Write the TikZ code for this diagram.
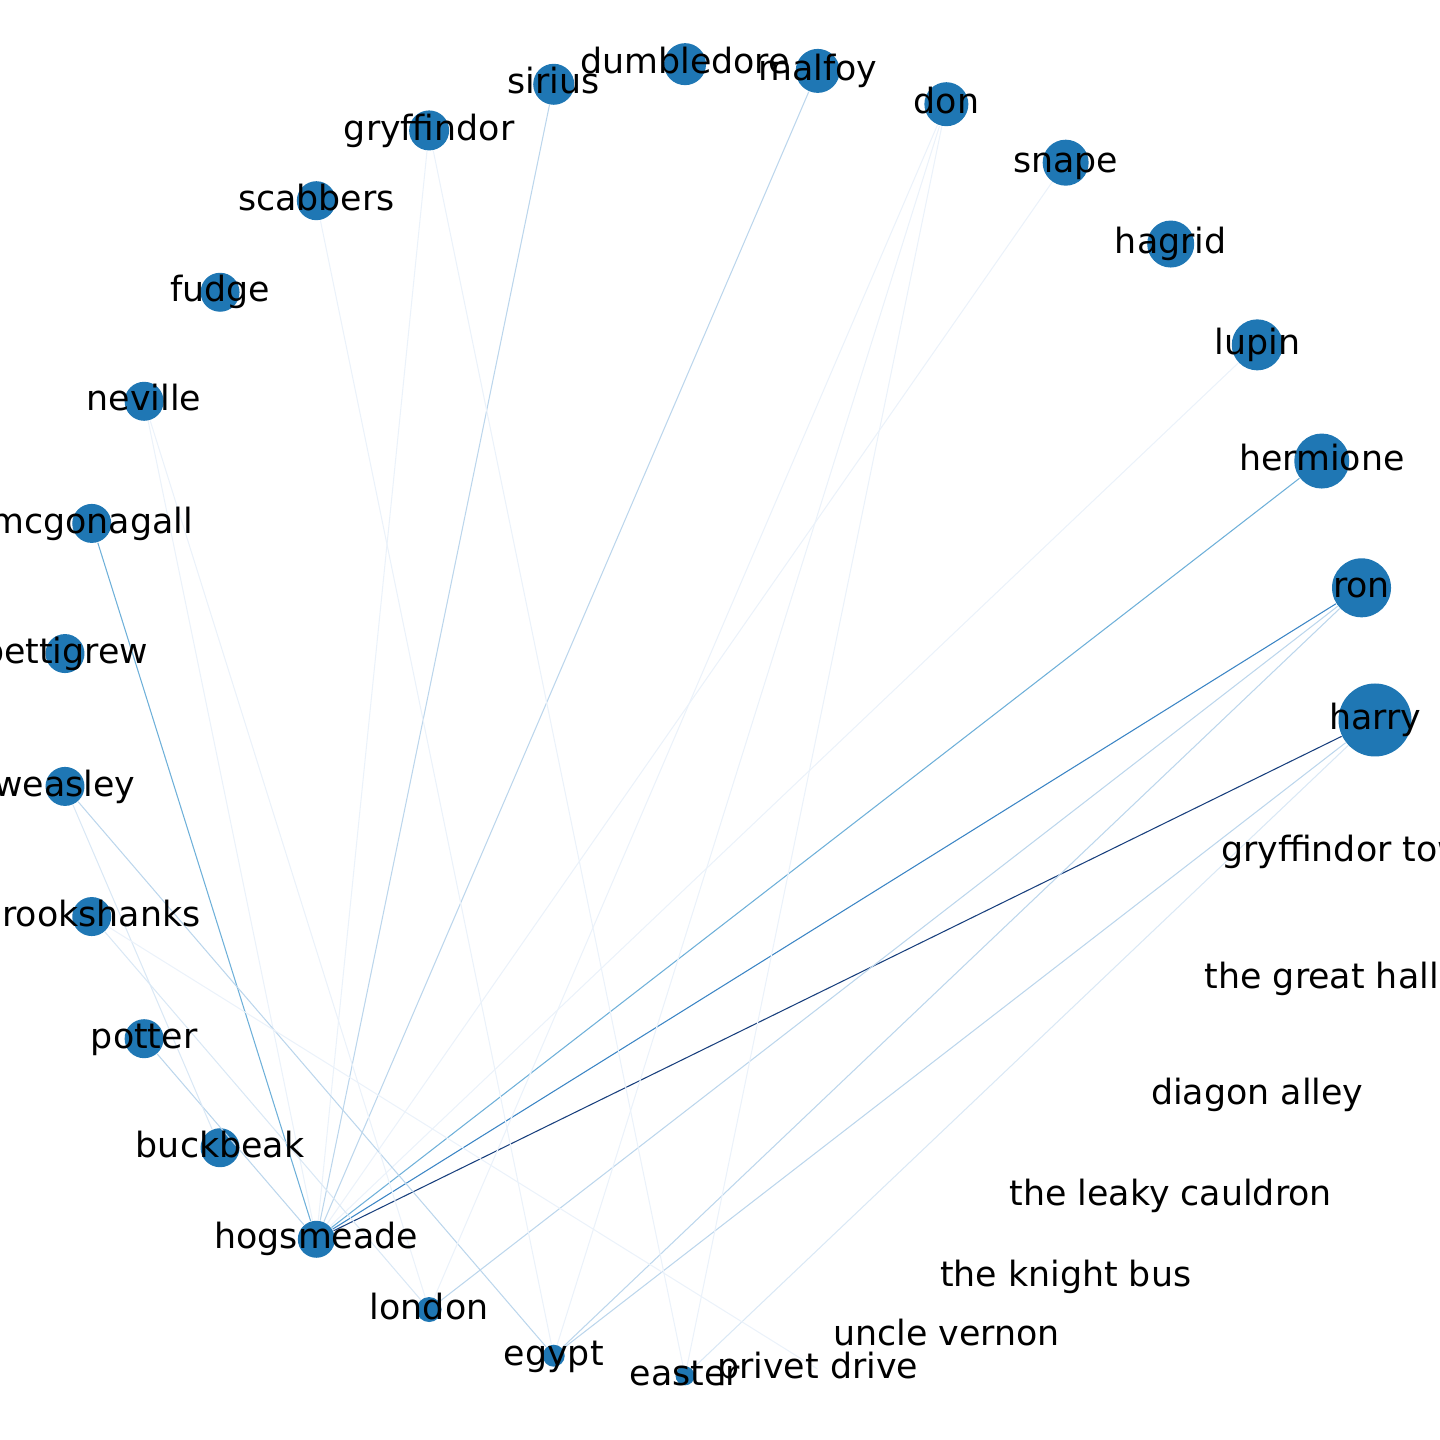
\documentclass[tikz,border=0pt]{standalone}
\usepackage{fontspec}
\setmainfont{DejaVu Sans}
\definecolor{tabblue}{HTML}{1F77B4}
\definecolor{blues5}{HTML}{183F7D}
\definecolor{blues4}{HTML}{3A84C4}
\definecolor{blues3}{HTML}{6EB0D9}
\definecolor{blues2}{HTML}{BCD6EC}
\definecolor{blues1}{HTML}{DAE8F5}
\definecolor{blues0}{HTML}{EBF2FA}
\pgfdeclarelayer{fg}
\pgfsetlayers{main,fg}
\tikzstyle{ent} = [circle, fill=tabblue, inner sep=0pt]
\tikzstyle{lbl} = [inner sep=0pt, text height=0.76em, text depth=0.21em, font=\fontsize{9.9}{12}\selectfont]
\tikzstyle{link} = [line width=0.3pt]
% one entity on the ring: name, slot, diameter, text
\newcommand{\spot}[4]{%
  \node[ent, minimum size=#3cm] (#1) at ({#2*360/31}:6.567) {};
  \begin{pgfonlayer}{fg}
    \node[lbl] (#1-txt) at (#1.center) {#4};
  \end{pgfonlayer}}

\begin{document}
\begin{tikzpicture}
  \useasboundingbox (0,0) rectangle (14.4,14.4);
  \begin{scope}[shift={(7.183,7.2)}]
  \spot{harry}{0}{0.73}{harry}
  \spot{ron}{1}{0.59}{ron}
  \spot{hermione}{2}{0.55}{hermione}
  \spot{lupin}{3}{0.51}{lupin}
  \spot{hagrid}{4}{0.47}{hagrid}
  \spot{snape}{5}{0.46}{snape}
  \spot{don}{6}{0.44}{don}
  \spot{malfoy}{7}{0.44}{malfoy}
  \spot{dumbledore}{8}{0.42}{dumbledore}
  \spot{sirius}{9}{0.41}{sirius}
  \spot{gryffindor}{10}{0.40}{gryffindor}
  \spot{scabbers}{11}{0.39}{scabbers}
  \spot{fudge}{12}{0.39}{fudge}
  \spot{neville}{13}{0.39}{neville}
  \spot{mcgonagall}{14}{0.39}{mcgonagall}
  \spot{pettigrew}{15}{0.39}{pettigrew}
  \spot{weasley}{16}{0.39}{weasley}
  \spot{crookshanks}{17}{0.39}{crookshanks}
  \spot{potter}{18}{0.39}{potter}
  \spot{buckbeak}{19}{0.39}{buckbeak}
  \spot{hogsmeade}{20}{0.37}{hogsmeade}
  \spot{london}{21}{0.25}{london}
  \spot{egypt}{22}{0.22}{egypt}
  \spot{easter}{23}{0.19}{easter}
  \spot{privet}{24}{0}{privet drive}
  \spot{vernon}{25}{0}{uncle vernon}
  \spot{knightbus}{26}{0}{the knight bus}
  \spot{cauldron}{27}{0}{the leaky cauldron}
  \spot{diagon}{28}{0}{diagon alley}
  \spot{greathall}{29}{0}{the great hall}
  \spot{tower}{30}{0}{gryffindor tower}
  \end{scope}

  % links, darker = stronger
  \draw[link, blues5] (hogsmeade) -- (harry);
  \draw[link, blues4] (hogsmeade) -- (ron);
  \draw[link, blues3] (hogsmeade) -- (hermione);
  \draw[link, blues3] (hogsmeade) -- (mcgonagall);
  \draw[link, blues2] (hogsmeade) -- (malfoy);
  \draw[link, blues2] (hogsmeade) -- (sirius);
  \draw[link, blues2] (hogsmeade) -- (potter);
  \draw[link, blues0] (hogsmeade) -- (lupin);
  \draw[link, blues0] (hogsmeade) -- (snape);
  \draw[link, blues0] (hogsmeade) -- (gryffindor);
  \draw[link, blues0] (hogsmeade) -- (neville);
  \draw[link, blues2] (weasley) -- (egypt);
  \draw[link, blues1] (weasley) -- (buckbeak);
  \draw[link, blues2] (ron) -- (london);
  \draw[link, blues2] (ron) -- (egypt);
  \draw[link, blues2] (harry) -- (egypt);
  \draw[link, blues1] (harry) -- (easter);
  \draw[link, blues0] (don) -- (london);
  \draw[link, blues0] (don) -- (egypt);
  \draw[link, blues0] (don) -- (easter);
  \draw[link, blues0] (gryffindor) -- (easter);
  \draw[link, blues0] (scabbers) -- (egypt);
  \draw[link, blues0] (neville) -- (london);
  \draw[link, blues1] (crookshanks) -- (london);
  \draw[link, blues0] (crookshanks) -- (privet);
\end{tikzpicture}
\end{document}
